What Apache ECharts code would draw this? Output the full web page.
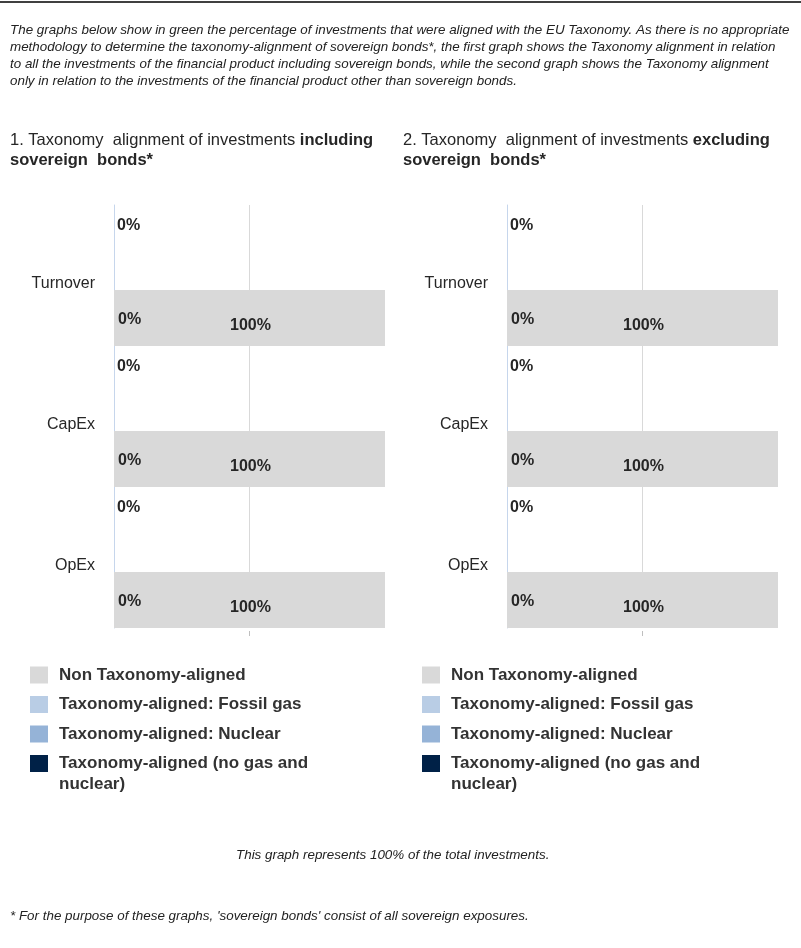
<!DOCTYPE html>
<html>
<head>
<meta charset="utf-8">
<script src="https://cdn.jsdelivr.net/npm/echarts@6/dist/echarts.min.js"></script>
<style>
  html, body { margin: 0; padding: 0; background: #fff; }
  #main { width: 801px; height: 948px; }
</style>
</head>
<body>
<div id="main"></div>
<script>
  // 分类
  const categories = ['Turnover', 'CapEx', 'OpEx'];

  // 图1：包含主权债券
  const alignedNoGasNuclear1 = [0, 0, 0];
  const fossilGas1 = [0, 0, 0];
  const nuclear1 = [0, 0, 0];
  const nonAligned1 = [100, 100, 100];

  // 图2：不含主权债券
  const alignedNoGasNuclear2 = [0, 0, 0];
  const fossilGas2 = [0, 0, 0];
  const nuclear2 = [0, 0, 0];
  const nonAligned2 = [100, 100, 100];

  const xTicks = [0, 50, 100];

  const NAME_NON = 'Non Taxonomy-aligned';
  const NAME_GAS = 'Taxonomy-aligned: Fossil gas';
  const NAME_NUC = 'Taxonomy-aligned: Nuclear';
  const NAME_ALN = 'Taxonomy-aligned (no gas and nuclear)';

  const colors = {
    non: '#d9d9d9',
    gas: '#b9cde5',
    nuc: '#95b3d7',
    aln: '#002147'
  };

  const textColor = '#262626';
  const sansFont = '"Liberation Sans", Arial, sans-serif';
  const labelStyle = { fontSize: 16, fontWeight: 'bold', color: textColor, fontFamily: sansFont };

  function makeSeries(idx, aligned, gas, nuc, non) {
    const up = 'up' + idx;
    const low = 'low' + idx;
    return [
      {
        name: NAME_ALN, type: 'bar', stack: up, barWidth: 85, barGap: 0,
        xAxisIndex: idx, yAxisIndex: idx, data: aligned,
        itemStyle: { color: colors.aln },
        label: { show: true, position: [3, 13], formatter: '{c}%', ...labelStyle }
      },
      {
        name: NAME_GAS, type: 'bar', stack: up, barWidth: 85, barGap: 0,
        xAxisIndex: idx, yAxisIndex: idx, data: gas,
        itemStyle: { color: colors.gas }
      },
      {
        name: NAME_NUC, type: 'bar', stack: up, barWidth: 85, barGap: 0,
        xAxisIndex: idx, yAxisIndex: idx, data: nuc,
        itemStyle: { color: colors.nuc }
      },
      {
        name: NAME_ALN, type: 'bar', stack: low, barWidth: 56, barGap: 0,
        xAxisIndex: idx, yAxisIndex: idx, data: aligned,
        itemStyle: { color: colors.aln },
        label: { show: true, position: 'insideLeft', distance: 4, offset: [0, 2], formatter: '{c}%', ...labelStyle }
      },
      {
        name: NAME_NON, type: 'bar', stack: low, barWidth: 56, barGap: 0, barCategoryGap: 0,
        xAxisIndex: idx, yAxisIndex: idx, data: non,
        itemStyle: { color: colors.non },
        label: { show: true, position: 'inside', offset: [1, 8], formatter: '{c}%', ...labelStyle }
      }
    ];
  }

  function makeXAxis(idx) {
    return {
      gridIndex: idx, type: 'value', min: 0, max: 100, interval: 50,
      offset: 3,
      axisLine: { show: false },
      axisLabel: { show: false },
      axisTick: { show: true, customValues: [xTicks[1]], length: 5, lineStyle: { color: '#bfbfbf' } },
      splitLine: { show: true, lineStyle: { color: '#d9d9d9', width: 1 } }
    };
  }

  function makeYAxis(idx) {
    return {
      gridIndex: idx, type: 'category', data: categories, inverse: true,
      axisLine: { show: true, lineStyle: { color: '#c6d6ec', width: 1 } },
      axisTick: { show: false },
      axisLabel: {
        color: textColor, fontSize: 16, fontFamily: sansFont, margin: 19,
        verticalAlign: 'top', lineHeight: 16
      }
    };
  }

  function makeLegend(left) {
    return {
      orient: 'vertical', left: left, top: 665, padding: 0,
      itemWidth: 18, itemHeight: 17, itemGap: 9.5,
      icon: 'rect',
      data: [NAME_NON, NAME_GAS, NAME_NUC, NAME_ALN],
      // 最后一项第二行用 graphic 单独画
      formatter: name => name === NAME_ALN ? 'Taxonomy-aligned (no gas and' : name,
      textStyle: {
        fontSize: 17, fontWeight: 'bold', color: '#333', fontFamily: sansFont,
        lineHeight: 20, padding: [0, 0, 0, 6]
      }
    };
  }

  const titleRich = {
    a: { fontSize: 16.5, fontWeight: 'normal', color: textColor, fontFamily: sansFont, lineHeight: 20 },
    b: { fontSize: 16.5, fontWeight: 'bold', color: textColor, fontFamily: sansFont, lineHeight: 20 }
  };

  const italicFont = 'italic 13.4px "Liberation Sans", Arial, sans-serif';
  const legendFont = 'bold 17px "Liberation Sans", Arial, sans-serif';

  const introText = [
    'The graphs below show in green the percentage of investments that were aligned with the EU Taxonomy. As there is no appropriate',
    'methodology to determine the taxonomy-alignment of sovereign bonds*, the first graph shows the Taxonomy alignment in relation',
    'to all the investments of the financial product including sovereign bonds, while the second graph shows the Taxonomy alignment',
    'only in relation to the investments of the financial product other than sovereign bonds.'
  ].join('\n');

  const chart = echarts.init(document.getElementById('main'));

  const option = {
    animation: false,
    backgroundColor: '#fff',
    title: [
      {
        left: 10, top: 130, padding: 0,
        text: '{a|1. Taxonomy  alignment of investments }{b|including}\n{b|sovereign  bonds*}',
        textStyle: { fontWeight: 'normal', rich: titleRich }
      },
      {
        left: 403, top: 130, padding: 0,
        text: '{a|2. Taxonomy  alignment of investments }{b|excluding}\n{b|sovereign  bonds*}',
        textStyle: { fontWeight: 'normal', rich: titleRich }
      }
    ],
    grid: [
      { left: 114, width: 271, top: 205, height: 423 },
      { left: 507, width: 271, top: 205, height: 423 }
    ],
    xAxis: [makeXAxis(0), makeXAxis(1)],
    yAxis: [makeYAxis(0), makeYAxis(1)],
    legend: [makeLegend(30), makeLegend(422)],
    series: [
      ...makeSeries(0, alignedNoGasNuclear1, fossilGas1, nuclear1, nonAligned1),
      ...makeSeries(1, alignedNoGasNuclear2, fossilGas2, nuclear2, nonAligned2)
    ],
    graphic: [
      {
        type: 'rect', left: 0, top: 1, z: 10,
        shape: { width: 801, height: 2 },
        style: { fill: '#404040' }
      },
      {
        type: 'text', left: 10, top: 22,
        style: { text: introText, font: italicFont, fill: '#222', lineHeight: 17 }
      },
      {
        type: 'text', x: 59, y: 784,
        style: { text: 'nuclear)', font: legendFont, fill: '#333', verticalAlign: 'middle' }
      },
      {
        type: 'text', x: 451, y: 784,
        style: { text: 'nuclear)', font: legendFont, fill: '#333', verticalAlign: 'middle' }
      },
      {
        type: 'text', left: 236, top: 849,
        style: { text: 'This graph represents 100% of the total investments.', font: italicFont, fill: '#222' }
      },
      {
        type: 'text', left: 10, top: 910,
        style: { text: "* For the purpose of these graphs, 'sovereign bonds' consist of all sovereign exposures.", font: italicFont, fill: '#222' }
      }
    ]
  };

  chart.setOption(option);
</script>
</body>
</html>
